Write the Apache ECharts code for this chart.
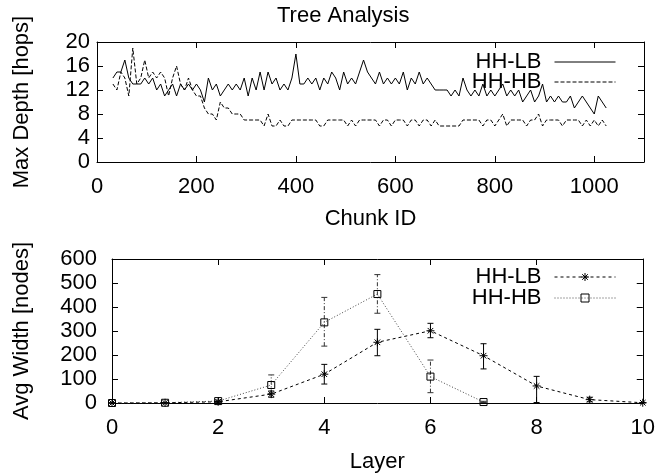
<!DOCTYPE html>
<html>
<head>
    <meta charset="UTF-8" />
    <script src="https://cdn.jsdelivr.net/npm/echarts@6/dist/echarts.min.js"></script>
</head>
<body style="margin: 0; background: #fff;">
    <div id="chart" style="width: 658px; height: 474px;"></div>
    <script type="text/javascript">
        // top plot: max depth per chunk
        const chunkIds = [32, 40, 48, 56, 64, 72, 80, 88, 96, 104,
            112, 120, 128, 136, 144, 152, 160, 168, 176, 184,
            192, 200, 208, 216, 224, 232, 240, 248, 256, 264,
            272, 280, 288, 296, 304, 312, 320, 328, 336, 344,
            352, 360, 368, 376, 384, 392, 400, 408, 416, 424,
            432, 440, 448, 456, 464, 472, 480, 488, 496, 504,
            512, 520, 528, 536, 544, 552, 560, 568, 576, 584,
            592, 600, 608, 616, 624, 632, 640, 648, 656, 664,
            672, 680, 688, 696, 704, 712, 720, 728, 736, 744,
            752, 760, 768, 776, 784, 792, 800, 808, 816, 824,
            832, 840, 848, 856, 864, 872, 880, 888, 896, 904,
            912, 920, 928, 936, 944, 952, 960, 968, 976, 984,
            992, 1000, 1008, 1016, 1024];
        const depthLB = [14, 15, 15, 17, 14, 13, 13, 13, 14, 13,
            14, 12, 13, 11, 12, 13, 11, 13, 12, 13,
            12, 13, 12, 10, 14, 12, 13, 11, 12, 13,
            12, 13, 12, 14, 11, 14, 12, 15, 12, 15,
            13, 14, 12, 13, 12, 14, 18, 13, 13, 14,
            13, 14, 12, 14, 13, 15, 14, 12, 15, 13,
            14, 13, 15, 17, 15, 14, 13, 15, 13, 14,
            13, 14, 13, 15, 12, 14, 13, 15, 13, 14,
            13, 12, 12, 12, 12, 11, 12, 11, 14, 12,
            11, 12, 11, 13, 11, 12, 11, 12, 13, 11,
            12, 11, 12, 10, 11, 12, 10, 11, 13, 10,
            11, 10, 11, 10, 10, 11, 9, 10, 11, 10,
            9, 8, 11, 10, 9];
        const depthHB = [13, 12, 15, 14, 11, 19, 13, 14, 17, 14,
            15, 14, 15, 14, 11, 14, 16, 13, 12, 14,
            12, 11, 11, 9, 8, 8, 7, 10, 9, 9,
            8, 8, 8, 7, 7, 7, 7, 7, 6, 8,
            6, 6, 7, 6, 6, 7, 7, 7, 7, 7,
            7, 7, 6, 6, 7, 7, 7, 7, 7, 6,
            7, 6, 7, 7, 7, 7, 7, 6, 7, 7,
            6, 7, 7, 7, 6, 7, 7, 6, 7, 7,
            6, 7, 6, 6, 6, 6, 6, 6, 7, 7,
            7, 7, 7, 6, 7, 7, 6, 7, 8, 6,
            7, 7, 7, 7, 6, 7, 7, 8, 6, 7,
            7, 7, 7, 6, 7, 7, 7, 7, 6, 7,
            6, 7, 6, 7, 6];

        // bottom plot: avg width per layer
        const layersLB = [0, 1, 2, 3, 4, 5, 6, 7, 8, 9, 10];
        const widthLB = [0, 1, 5, 37, 120, 253, 301, 197, 71, 14, 1];
        const widthLBLow = [0, 0, 3, 24, 79, 197, 272, 142, 2, 5, 0];
        const widthLBHigh = [1, 2, 7, 50, 161, 307, 332, 247, 111, 24, 2];
        const layersHB = [0, 1, 2, 3, 4, 5, 6, 7];
        const widthHB = [0, 1, 8, 75, 336, 454, 110, 4];
        const widthHBLow = [0, 0, 5, 40, 237, 374, 43, 2];
        const widthHBHigh = [1, 2, 12, 117, 440, 535, 179, 7];

        const legendNames = { topLB: 'HH-LB', topHB: 'HH-HB', botLB: 'HH-LB', botHB: 'HH-HB' };

        const FONT = 'Liberation Sans';
        const FS = 22;

        const zip = (xs, ys) => xs.map((x, i) => [x, ys[i]]);
        const zip3 = (xs, a, b) => xs.map((x, i) => [x, a[i], b[i]]);

        const starPath = 'path://M5 0V10M0 5H10M1.5 1.5L8.5 8.5M1.5 8.5L8.5 1.5';
        const boxPath = 'path://M0 0H10V10H0Z';

        function baseAxis(extra) {
            return Object.assign({
                type: 'value',
                axisLine: { show: true, onZero: false, lineStyle: { color: '#000', width: 1 } },
                axisTick: { show: true, inside: true, length: 6, lineStyle: { color: '#000' } },
                splitLine: { show: false },
                nameTextStyle: { color: '#000', fontSize: FS, fontFamily: FONT },
                nameLocation: 'middle'
            }, extra);
        }
        function mirror(axis, pos) {
            return Object.assign({}, axis, { position: pos, name: '', axisLabel: { show: false } });
        }
        function labels(margin, more) {
            return Object.assign({ color: '#000', fontSize: FS, fontFamily: FONT, margin: margin, formatter: v => String(v) }, more);
        }

        function errorBar(color, dash) {
            return function (params, api) {
                const x = api.value(0);
                const lo = api.coord([x, api.value(1)]);
                const hi = api.coord([x, api.value(2)]);
                const w = 3;
                return {
                    type: 'group',
                    children: [
                        { type: 'line', shape: { x1: lo[0], y1: lo[1], x2: hi[0], y2: hi[1] }, style: { stroke: color, lineWidth: 1, lineDash: dash } },
                        { type: 'line', shape: { x1: hi[0] - w, y1: hi[1], x2: hi[0] + w, y2: hi[1] }, style: { stroke: color, lineWidth: 1 } },
                        { type: 'line', shape: { x1: lo[0] - w, y1: lo[1], x2: lo[0] + w, y2: lo[1] }, style: { stroke: color, lineWidth: 1 } }
                    ]
                };
            };
        }

        const xTop = baseAxis({ gridIndex: 0, min: 0, max: 1100, interval: 200, name: 'Chunk ID', nameGap: 46,
            axisLabel: labels(14, { showMaxLabel: false }) });
        const yTop = baseAxis({ gridIndex: 0, min: 0, max: 20, interval: 4, name: 'Max Depth [hops]', nameGap: 64,
            axisLabel: labels(7) });
        const xBot = baseAxis({ gridIndex: 1, min: 0, max: 10, interval: 2, name: 'Layer', nameGap: 48,
            axisLabel: labels(14) });
        const yBot = baseAxis({ gridIndex: 1, min: 0, max: 600, interval: 100, name: 'Avg Width [nodes]', nameGap: 79,
            axisLabel: labels(15) });

        const legendText = { color: '#000', fontSize: FS, fontFamily: FONT, lineHeight: 19, padding: [0, 8, 0, 0] };

        const chart = echarts.init(document.getElementById('chart'));
        chart.setOption({
            animation: false,
            backgroundColor: '#fff',
            title: {
                text: 'Tree Analysis', left: 272, top: 0,
                textStyle: { color: '#000', fontSize: FS, fontWeight: 'normal', fontFamily: FONT }
            },
            grid: [
                { left: 97, right: 14, top: 42, height: 120 },
                { left: 112, right: 15, top: 259, height: 144 }
            ],
            xAxis: [xTop, mirror(xTop, 'top'), xBot, mirror(xBot, 'top')],
            yAxis: [yTop, mirror(yTop, 'right'), yBot, mirror(yBot, 'right')],
            legend: [
                {
                    data: ['topLB', 'topHB'],
                    formatter: n => legendNames[n],
                    orient: 'vertical', align: 'right', right: 37, top: 46,
                    itemWidth: 61, itemHeight: 10, itemGap: -2,
                    lineStyle: { width: 1 }, itemStyle: { opacity: 0 },
                    textStyle: legendText
                },
                {
                    data: ['botLB', 'botHB'],
                    formatter: n => legendNames[n],
                    orient: 'vertical', align: 'right', right: 37, top: 261,
                    itemWidth: 61, itemHeight: 10, itemGap: -1,
                    lineStyle: { width: 1 },
                    itemStyle: { color: 'rgba(0,0,0,0)', borderColor: '#000', borderWidth: 1 },
                    textStyle: legendText
                }
            ],
            series: [
                {
                    name: 'topLB', type: 'line', xAxisIndex: 0, yAxisIndex: 0,
                    data: zip(chunkIds, depthLB), symbol: 'none',
                    lineStyle: { color: '#000', width: 1 }, itemStyle: { color: '#000' }
                },
                {
                    name: 'topHB', type: 'line', xAxisIndex: 0, yAxisIndex: 0,
                    data: zip(chunkIds, depthHB), symbol: 'none',
                    lineStyle: { color: '#000', width: 1, type: [4, 2] }, itemStyle: { color: '#000' }
                },
                {
                    name: 'errLB', type: 'custom', xAxisIndex: 2, yAxisIndex: 2,
                    data: zip3(layersLB, widthLBLow, widthLBHigh), renderItem: errorBar('#000', null), z: 1
                },
                {
                    name: 'errHB', type: 'custom', xAxisIndex: 2, yAxisIndex: 2,
                    data: zip3(layersHB, widthHBLow, widthHBHigh), renderItem: errorBar('#333', [4, 2, 1, 2]), z: 1
                },
                {
                    name: 'botLB', type: 'line', xAxisIndex: 2, yAxisIndex: 2,
                    data: zip(layersLB, widthLB), symbol: starPath, symbolSize: 8, showAllSymbol: true,
                    lineStyle: { color: '#000', width: 1, type: [3, 3] },
                    itemStyle: { color: 'rgba(0,0,0,0)', borderColor: '#000', borderWidth: 1 }, z: 3
                },
                {
                    name: 'botHB', type: 'line', xAxisIndex: 2, yAxisIndex: 2,
                    data: zip(layersHB, widthHB), symbol: boxPath, symbolSize: 7, showAllSymbol: true,
                    lineStyle: { color: '#444', width: 1, type: [1, 2] },
                    itemStyle: { color: 'rgba(0,0,0,0)', borderColor: '#000', borderWidth: 1 }, z: 3
                }
            ]
        });
    </script>
</body>
</html>
